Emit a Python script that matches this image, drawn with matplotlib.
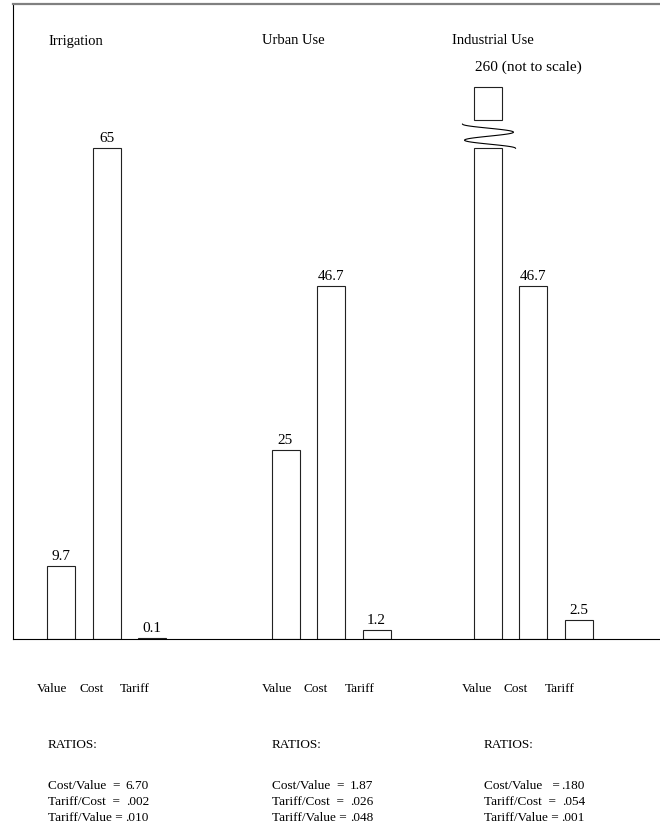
import numpy as np
import matplotlib
matplotlib.use("Agg")
import matplotlib.pyplot as plt
from matplotlib.transforms import blended_transform_factory

# data
groups = ["Irrigation", "Urban Use", "Industrial Use"]
measures = ["Value", "Cost", "Tariff"]
irrigation = [9.7, 65, 0.1]
urban = [25, 46.7, 1.2]
industrial = [260, 46.7, 2.5]
ratio_names = [
    ["Cost/Value  =", "Tariff/Cost  =", "Tariff/Value ="],
    ["Cost/Value  =", "Tariff/Cost  =", "Tariff/Value ="],
    ["Cost/Value   =", "Tariff/Cost  =", "Tariff/Value ="],
]
ratio_values = [
    ["6.70", ".002", ".010"],
    ["1.87", ".026", ".048"],
    [".180", ".054", ".001"],
]
break_level = 65  # bars above this are drawn broken

plt.rcParams['font.family'] = ['Liberation Serif', 'DejaVu Serif']
W, H = 660, 829
fig = plt.figure(figsize=(W / 100, H / 100), dpi=100)
ax = fig.add_axes([13 / W, 1 - 640 / H, (W - 13) / W, 635 / H])

px_per_unit = 7.55
ax.set_xlim(13, W)
ax.set_ylim(0, 635 / px_per_unit)
ax.set_xticks([])
ax.set_yticks([])
ax.spines['right'].set_visible(False)
ax.spines['top'].set_color('#808080')
ax.spines['top'].set_linewidth(1.6)
ax.spines['left'].set_linewidth(0.8)
ax.spines['bottom'].set_linewidth(0.8)

group_x = [61, 285.5, 487.5]
step = 45.5
bar_w = 28
edge = '#222222'
title_x = [48, 262, 452]
label_x = [37, 262, 462]
label_off = [0, 42, 83]
ratio_x = [48, 272, 484]
small = 9.5


def fig_y(py):
    return 1 - py / H


title_tr = blended_transform_factory(ax.transData, fig.transFigure)

for g, (name, vals) in enumerate(zip(groups, [irrigation, urban, industrial])):
    xs = [group_x[g] + i * step for i in range(len(vals))]
    shown = [min(v, break_level) for v in vals]
    ax.bar(xs, shown, width=bar_w, fill=False, edgecolor=edge, linewidth=0.8)

    for x, v, s in zip(xs, vals, shown):
        if v > break_level:
            # small stub above the break and a wavy break mark
            stub_bottom = break_level + 3.7
            stub_h = 4.4
            ax.bar(x, stub_h, bottom=stub_bottom, width=bar_w, fill=False,
                   edgecolor=edge, linewidth=0.8)
            t = np.linspace(0, 1, 80)
            wx = x - 25 * np.cos(3 * np.pi * t) + 3 * t
            wy = break_level + 3.2 * (1 - t)
            ax.plot(wx, wy, color='black', lw=0.8)
            ax.annotate(f"{v:g} (not to scale)", (x - bar_w / 2, stub_bottom + stub_h),
                        xytext=(1, 10), textcoords='offset points',
                        ha='left', va='bottom', fontsize=11)
        else:
            ax.annotate(f"{v:g}", (x, s), xytext=(0, 3), textcoords='offset points',
                        ha='center', va='bottom', fontsize=11)

    ax.text(title_x[g], fig_y(41), name, transform=title_tr,
            ha='left', va='center', fontsize=10.5)

    for off, m in zip(label_off, measures):
        fig.text((label_x[g] + off) / W, fig_y(689), m, ha='left', va='center',
                 fontsize=small)

    fig.text(ratio_x[g] / W, fig_y(745), "RATIOS:", ha='left', va='center', fontsize=small)
    for k, (nm, val) in enumerate(zip(ratio_names[g], ratio_values[g])):
        yy = fig_y(786 + 16 * k)
        fig.text(ratio_x[g] / W, yy, nm, ha='left', va='center', fontsize=small)
        fig.text((ratio_x[g] + 101) / W, yy, val, ha='right', va='center', fontsize=small)

fig.savefig("out.png", dpi=100)
